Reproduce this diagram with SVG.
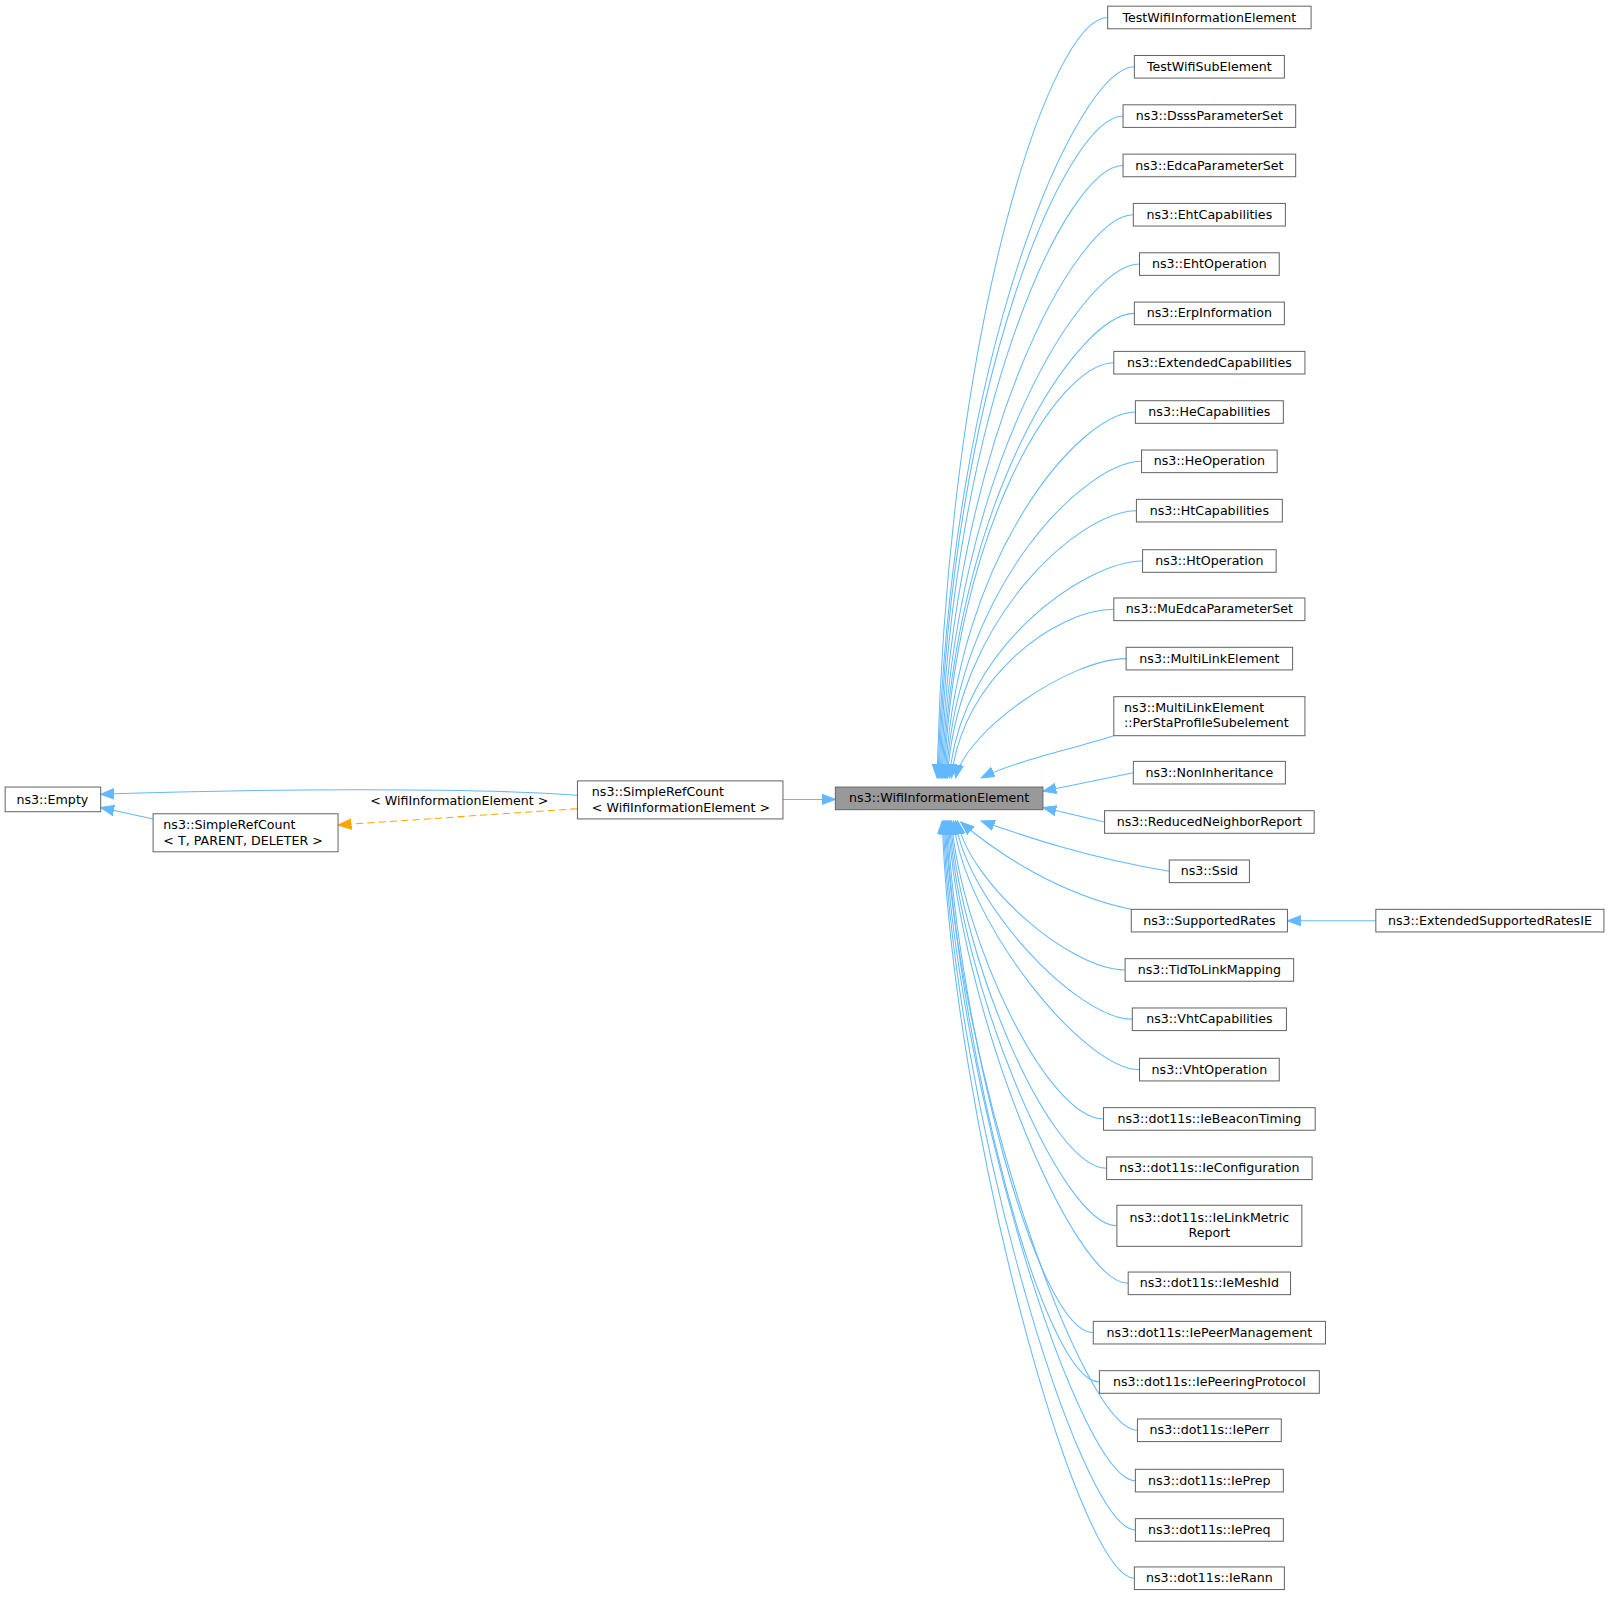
<svg xmlns="http://www.w3.org/2000/svg" width="1611" height="1597" viewBox="0 0 1611 1597">
<style>
.n rect{fill:#fff;stroke:#666;stroke-width:1}
.n text{font-family:"DejaVu Sans",sans-serif;font-size:12.3px;fill:#000;text-anchor:middle}
.e path{fill:none;stroke:#63b8ff;stroke-width:1;marker-end:url(#a)}
</style>
<defs>
<marker id="a" markerUnits="userSpaceOnUse" markerWidth="14" markerHeight="12" refX="13" refY="6" orient="auto" viewBox="0 0 14 12"><path d="M0,1 L13,6 L0,11 z" fill="#63b8ff" stroke="#63b8ff"/></marker>
<marker id="o" markerUnits="userSpaceOnUse" markerWidth="14" markerHeight="12" refX="13" refY="6" orient="auto" viewBox="0 0 14 12"><path d="M0,1 L13,6 L0,11 z" fill="#ffa500" stroke="#ffa500"/></marker>
</defs>
<rect width="1611" height="1597" fill="#fff"/>
<g transform="scale(1.0275)">
<g id="connectors" class="e">
<path d="M1078,17 C1023,17 922,313 912,757"/>
<path d="M1104,65 C1049,65 923,342 913,757"/>
<path d="M1093,113 C1038,113 924,371 914,757"/>
<path d="M1093,161 C1038,161 925,399 915,757"/>
<path d="M1103,209 C1048,209 926,428 916,757"/>
<path d="M1109,257 C1054,257 927,457 917,757"/>
<path d="M1104,305 C1049,305 928,486 918,757"/>
<path d="M1084,353 C1029,353 929,515 919,757"/>
<path d="M1105,401 C1050,401 930,543 920,757"/>
<path d="M1111,449 C1056,449 931,572 921,757"/>
<path d="M1106,497 C1051,497 932,601 922,757"/>
<path d="M1112,546 C1057,546 934,630 924,757"/>
<path d="M1084,593 C1029,593 936,659 926,757"/>
<path d="M1096,641 C1041,641 940,711 930,757"/>
<path d="M1084,716 C1040,730 990,740 955,757"/>
<path d="M1103,752 L1015,770"/>
<path d="M1075,800 L1015,786"/>
<path d="M1138,848 C1060,835 1000,815 955,799"/>
<path d="M1101,885 C1030,870 970,830 935,800"/>
<path d="M1095,944 C1040,944 942,857 932,799"/>
<path d="M1102,992 C1047,992 940,876 930,799"/>
<path d="M1109,1041 C1054,1041 938,896 928,799"/>
<path d="M1074,1089 C1019,1089 936,915 926,799"/>
<path d="M1077,1137 C1022,1137 935,934 925,799"/>
<path d="M1087,1193 C1032,1193 934,957 924,799"/>
<path d="M1098,1249 C1043,1249 933,979 923,799"/>
<path d="M1064,1297 C1009,1297 932,998 922,799"/>
<path d="M1070,1345 C1015,1345 931,1017 921,799"/>
<path d="M1107,1392 C1052,1392 930,1036 920,799"/>
<path d="M1105,1441 C1050,1441 929,1056 919,799"/>
<path d="M1105,1489 C1050,1489 928,1075 918,799"/>
<path d="M1104,1536 C1049,1536 927,1094 917,799"/>
<path d="M1339,896 L1253,896"/>
<path d="M762,778 L813,778"/>
<path d="M562,774 C450,766 250,768 98,773"/>
<path d="M149,797 L98,786"/>
<path d="M562,787 L329,803" style="stroke:#ffa500;stroke-dasharray:7,4;marker-end:url(#o)"/>
<text x="447" y="783" style="font-family:'DejaVu Sans',sans-serif;font-size:12.3px;text-anchor:middle">&lt; WifiInformationElement &gt;</text>
</g>
<g id="wie" class="n"><rect x="813" y="766" width="202" height="22" style="fill:#999"/><text x="914" y="781">ns3::WifiInformationElement</text></g>
<g id="srcw" class="n"><rect x="562" y="760" width="200" height="37"/><text x="576" y="775" style="text-anchor:start">ns3::SimpleRefCount</text><text x="576" y="790" style="text-anchor:start">&lt; WifiInformationElement &gt;</text></g>
<g id="empty" class="n"><rect x="5" y="766" width="93" height="24"/><text x="51" y="782">ns3::Empty</text></g>
<g id="srct" class="n"><rect x="149" y="792" width="180" height="37"/><text x="159" y="807" style="text-anchor:start">ns3::SimpleRefCount</text><text x="159" y="822" style="text-anchor:start">&lt; T, PARENT, DELETER &gt;</text></g>
<g id="n1" class="n"><rect x="1078" y="6" width="198" height="22"/><text x="1177" y="21">TestWifiInformationElement</text></g>
<g id="n2" class="n"><rect x="1104" y="54" width="146" height="22"/><text x="1177" y="69">TestWifiSubElement</text></g>
<g id="n3" class="n"><rect x="1093" y="102" width="168" height="22"/><text x="1177" y="117">ns3::DsssParameterSet</text></g>
<g id="n4" class="n"><rect x="1093" y="150" width="168" height="22"/><text x="1177" y="165">ns3::EdcaParameterSet</text></g>
<g id="n5" class="n"><rect x="1103" y="198" width="148" height="22"/><text x="1177" y="213">ns3::EhtCapabilities</text></g>
<g id="n6" class="n"><rect x="1109" y="246" width="136" height="22"/><text x="1177" y="261">ns3::EhtOperation</text></g>
<g id="n7" class="n"><rect x="1104" y="294" width="146" height="22"/><text x="1177" y="309">ns3::ErpInformation</text></g>
<g id="n8" class="n"><rect x="1084" y="342" width="186" height="22"/><text x="1177" y="357">ns3::ExtendedCapabilities</text></g>
<g id="n9" class="n"><rect x="1105" y="390" width="144" height="22"/><text x="1177" y="405">ns3::HeCapabilities</text></g>
<g id="n10" class="n"><rect x="1111" y="438" width="132" height="22"/><text x="1177" y="453">ns3::HeOperation</text></g>
<g id="n11" class="n"><rect x="1106" y="486" width="142" height="22"/><text x="1177" y="501">ns3::HtCapabilities</text></g>
<g id="n12" class="n"><rect x="1112" y="535" width="130" height="22"/><text x="1177" y="550">ns3::HtOperation</text></g>
<g id="n13" class="n"><rect x="1084" y="582" width="186" height="22"/><text x="1177" y="597">ns3::MuEdcaParameterSet</text></g>
<g id="n14" class="n"><rect x="1096" y="630" width="162" height="22"/><text x="1177" y="645">ns3::MultiLinkElement</text></g>
<g id="n15" class="n"><rect x="1084" y="678" width="186" height="38"/><text x="1094" y="693" style="text-anchor:start">ns3::MultiLinkElement</text><text x="1094" y="708" style="text-anchor:start">::PerStaProfileSubelement</text></g>
<g id="n16" class="n"><rect x="1103" y="741" width="148" height="22"/><text x="1177" y="756">ns3::NonInheritance</text></g>
<g id="n17" class="n"><rect x="1075" y="789" width="204" height="22"/><text x="1177" y="804">ns3::ReducedNeighborReport</text></g>
<g id="n18" class="n"><rect x="1138" y="837" width="78" height="22"/><text x="1177" y="852">ns3::Ssid</text></g>
<g id="n19" class="n"><rect x="1101" y="885" width="152" height="22"/><text x="1177" y="900">ns3::SupportedRates</text></g>
<g id="n20" class="n"><rect x="1339" y="885" width="222" height="22"/><text x="1450" y="900">ns3::ExtendedSupportedRatesIE</text></g>
<g id="n21" class="n"><rect x="1095" y="933" width="164" height="22"/><text x="1177" y="948">ns3::TidToLinkMapping</text></g>
<g id="n22" class="n"><rect x="1102" y="981" width="150" height="22"/><text x="1177" y="996">ns3::VhtCapabilities</text></g>
<g id="n23" class="n"><rect x="1109" y="1030" width="136" height="22"/><text x="1177" y="1045">ns3::VhtOperation</text></g>
<g id="n24" class="n"><rect x="1074" y="1078" width="206" height="22"/><text x="1177" y="1093">ns3::dot11s::IeBeaconTiming</text></g>
<g id="n25" class="n"><rect x="1077" y="1126" width="200" height="22"/><text x="1177" y="1141">ns3::dot11s::IeConfiguration</text></g>
<g id="n26" class="n"><rect x="1087" y="1173" width="180" height="40"/><text x="1177" y="1189">ns3::dot11s::IeLinkMetric</text><text x="1177" y="1204">Report</text></g>
<g id="n27" class="n"><rect x="1098" y="1238" width="158" height="22"/><text x="1177" y="1253">ns3::dot11s::IeMeshId</text></g>
<g id="n28" class="n"><rect x="1064" y="1286" width="226" height="22"/><text x="1177" y="1301">ns3::dot11s::IePeerManagement</text></g>
<g id="n29" class="n"><rect x="1070" y="1334" width="214" height="22"/><text x="1177" y="1349">ns3::dot11s::IePeeringProtocol</text></g>
<g id="n30" class="n"><rect x="1107" y="1381" width="140" height="22"/><text x="1177" y="1396">ns3::dot11s::IePerr</text></g>
<g id="n31" class="n"><rect x="1105" y="1430" width="144" height="22"/><text x="1177" y="1445">ns3::dot11s::IePrep</text></g>
<g id="n32" class="n"><rect x="1105" y="1478" width="144" height="22"/><text x="1177" y="1493">ns3::dot11s::IePreq</text></g>
<g id="n33" class="n"><rect x="1104" y="1525" width="146" height="22"/><text x="1177" y="1540">ns3::dot11s::IeRann</text></g>
</g>
</svg>
